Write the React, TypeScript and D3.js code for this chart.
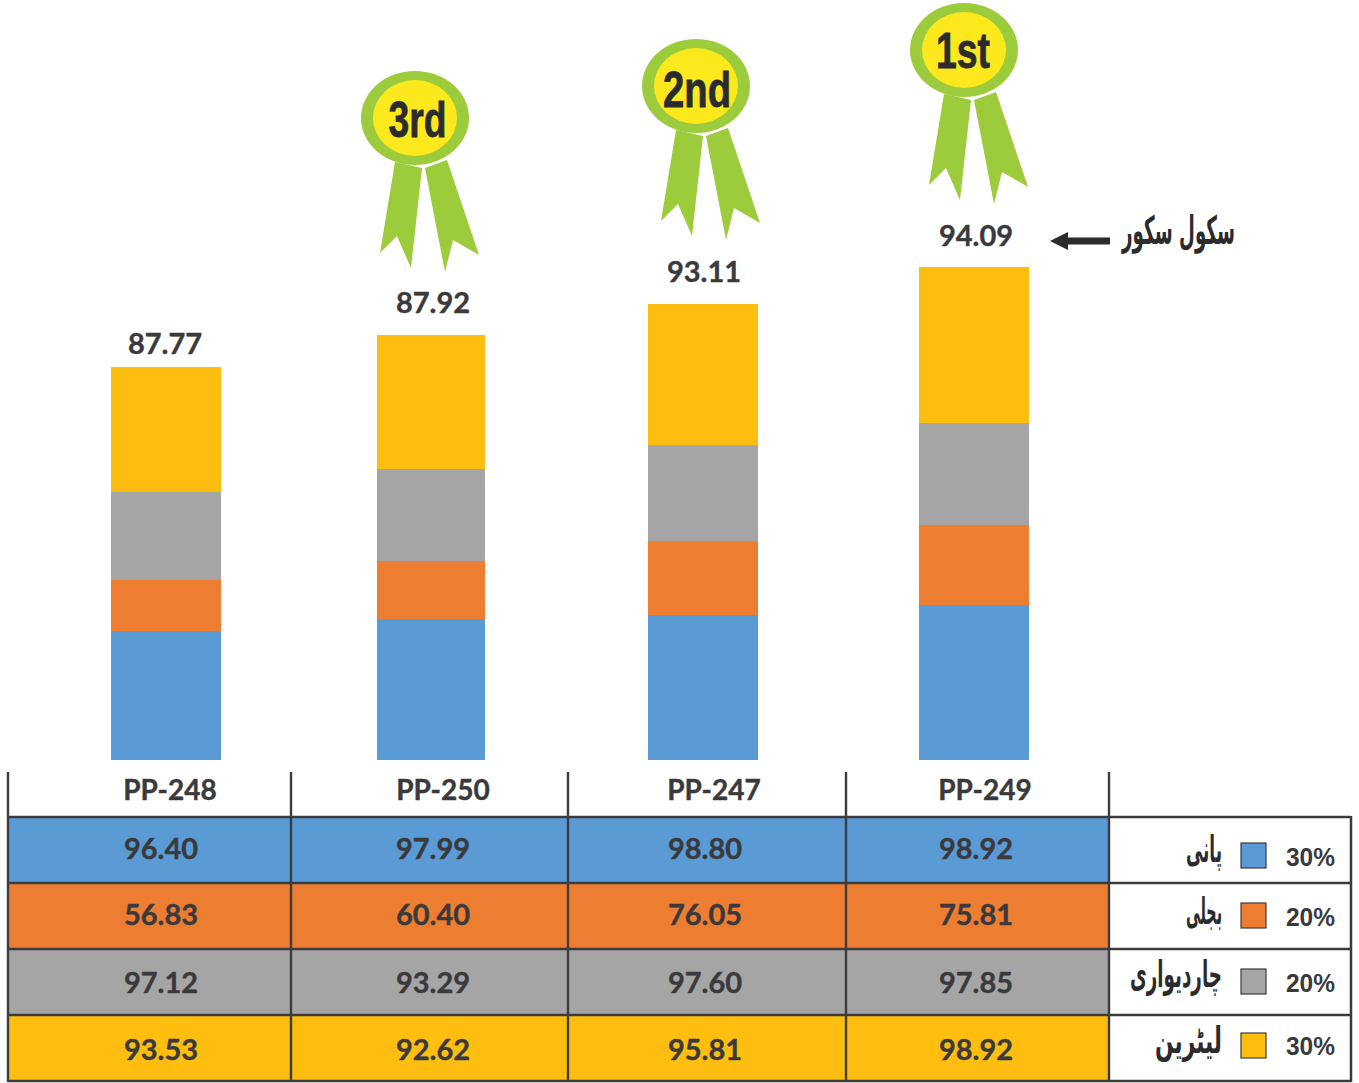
import React from "react";
import * as d3 from "d3";

// Data
const categories = ["PP-248", "PP-250", "PP-247", "PP-249"];
const totals = ["87.77", "87.92", "93.11", "94.09"];
const ranks = ["", "3rd", "2nd", "1st"];
const waterScores = ["96.40", "97.99", "98.80", "98.92"];
const powerScores = ["56.83", "60.40", "76.05", "75.81"];
const wallScores = ["97.12", "93.29", "97.60", "97.85"];
const toiletScores = ["93.53", "92.62", "95.81", "98.92"];
const legendNames = ["پانی", "بجلی", "چاردیواری", "لیٹرین"];
const legendWeights = ["30%", "20%", "20%", "30%"];
const scoreLabel = "سکول سکور";

// Segment heights as drawn in the picture (the printed bars are not on one true scale)
const waterDrawn = [24.62, 26.91, 27.67, 29.58];
const powerDrawn = [9.73, 11.07, 14.12, 15.27];
const wallDrawn = [16.79, 17.56, 18.32, 19.47];
const toiletDrawn = [23.85, 25.57, 26.91, 29.77];

const seriesKeys = ["water", "power", "wall", "toilet"];
const colors = ["#5b9bd5", "#ed7d31", "#a5a5a6", "#fdbe10"];
const ink = "#3a3a3d";
const line = "#3c3c3e";
const numFont = "Lato, 'Open Sans', sans-serif";
const narrowFont = "'Liberation Sans', Arial, sans-serif";
const urduFont = "'DejaVu Sans', sans-serif";

const y = d3.scaleLinear().domain([0, 100]).range([760, 236]);
const barX = d3.scaleOrdinal<string, number>().domain(categories).range([166, 431, 703, 974]);
const barW = d3.scaleOrdinal<string, number>().domain(categories).range([110, 108, 110, 110]);
const totalX = d3.scaleOrdinal<string, number>().domain(categories).range([165, 433, 704, 976]);
const totalY = d3.scaleOrdinal<string, number>().domain(categories).range([354, 313, 282, 246]);
const cellX = d3.scaleOrdinal<string, number>().domain(categories).range([161, 433, 705, 976]);
const headX = d3.scaleOrdinal<string, number>().domain(categories).range([170, 443, 714, 985]);
const rosetteX = d3.scaleOrdinal<string, number>().domain(categories).range([0, 415, 696, 964]);
const rosetteY = d3.scaleOrdinal<string, number>().domain(categories).range([0, 118, 86, 50]);
const rankW = d3.scaleOrdinal<string, number>().domain(categories).range([0, 58, 68, 54]);
const rankDx = d3.scaleOrdinal<string, number>().domain(categories).range([0, 2.5, 1, -1]);
const rankDy = d3.scaleOrdinal<string, number>().domain(categories).range([0, 19, 21, 18]);

const stackRows = categories.map((c, i) => ({
  c,
  water: waterDrawn[i],
  power: powerDrawn[i],
  wall: wallDrawn[i],
  toilet: toiletDrawn[i],
}));
const stacked = d3.stack<any>().keys(seriesKeys)(stackRows);

const tableRows = [waterScores, powerScores, wallScores, toiletScores];
const colEdges = [8, 291, 568, 846, 1109];
const rowEdges = [817, 883, 949, 1015, 1081];
const rightEdge = 1351;
const valueBase = [859, 925, 993, 1060];
const swatchTop = [843, 903, 969, 1033];
const weightBase = [866, 926, 992, 1055];
const urduBase = [862, 924, 987, 1053];
const urduWidth = [36, 36, 92, 67];

const ribbonLeft = d3.line()([[-20, 44], [7, 50], [-4, 150], [-18, 118], [-35, 135]]) + "Z";
const ribbonRight = d3.line()([[10, 50], [32, 42], [64, 137], [38, 122], [30, 154]]) + "Z";

export default function App() {
  return (
    <svg
      width={1359}
      height={1083}
      viewBox="0 0 1359 1083"
      style={{ position: "absolute", left: 0, top: 0, display: "block", background: "#fff" }}
    >
      {stacked.map((s, si) =>
        s.map((d: any, i: number) => {
          const c = categories[i];
          return (
            <rect
              key={`${si}-${i}`}
              x={barX(c) - barW(c) / 2}
              y={y(d[1])}
              width={barW(c)}
              height={y(d[0]) - y(d[1])}
              fill={colors[si]}
            />
          );
        })
      )}

      {categories.map((c, i) => (
        <text
          key={c}
          x={totalX(c)}
          y={totalY(c)}
          textAnchor="middle"
          fontFamily={numFont}
          fontWeight={700}
          fontSize={29}
          stroke={ink}
          strokeWidth={0.4}
          fill={ink}
        >
          {totals[i]}
        </text>
      ))}

      {categories.map((c, i) =>
        ranks[i] ? (
          <g key={c} transform={`translate(${rosetteX(c)},${rosetteY(c)})`}>
            <path d={ribbonLeft} fill="#9ccb3b" />
            <path d={ribbonRight} fill="#9ccb3b" />
            <ellipse rx={54} ry={47} fill="#9ccb3b" />
            <ellipse rx={42} ry={38} fill="#fbe91e" />
            <text
              x={rankDx(c)}
              y={rankDy(c)}
              textAnchor="middle"
              fontFamily={narrowFont}
              fontWeight={700}
              fontSize={50}
              textLength={rankW(c)}
              lengthAdjust="spacingAndGlyphs"
              stroke="#2b2b2d"
              strokeWidth={0.8}
              fill="#2b2b2d"
            >
              {ranks[i]}
            </text>
          </g>
        ) : null
      )}

      <path d="M1050,241 L1068,232 L1068,237.5 L1110,237.5 L1110,244.5 L1068,244.5 L1068,250 Z" fill="#2b2b2d" />
      <g transform="translate(1235,244) scale(1,1.4)">
        <text
          x={0}
          y={0}
          direction="rtl"
          textAnchor="start"
          fontFamily={urduFont}
          fontWeight={700}
          fontSize={28}
          textLength={113}
          lengthAdjust="spacingAndGlyphs"
          fill="#2b2b2d"
        >
          {scoreLabel}
        </text>
      </g>

      {tableRows.map((row, r) => (
        <rect
          key={r}
          x={colEdges[0]}
          y={rowEdges[r]}
          width={colEdges[4] - colEdges[0]}
          height={rowEdges[r + 1] - rowEdges[r]}
          fill={colors[r]}
        />
      ))}
      {rowEdges.map((ry) => (
        <line key={ry} x1={colEdges[0]} x2={rightEdge} y1={ry} y2={ry} stroke={line} strokeWidth={2.5} />
      ))}
      {colEdges.map((cx) => (
        <line key={cx} x1={cx} x2={cx} y1={772} y2={1082} stroke={line} strokeWidth={2.4} />
      ))}
      <line x1={rightEdge} x2={rightEdge} y1={816} y2={1082} stroke={line} strokeWidth={2.5} />

      {categories.map((c) => (
        <text
          key={c}
          x={headX(c)}
          y={800}
          textAnchor="middle"
          fontFamily={numFont}
          fontWeight={700}
          fontSize={28}
          stroke={ink}
          strokeWidth={0.4}
          fill={ink}
        >
          {c}
        </text>
      ))}
      {tableRows.map((row, r) =>
        row.map((v, i) => (
          <text
            key={`${r}-${i}`}
            x={cellX(categories[i])}
            y={valueBase[r]}
            textAnchor="middle"
            fontFamily={numFont}
            fontWeight={700}
            fontSize={29}
            stroke={ink}
            strokeWidth={0.4}
            fill={ink}
          >
            {v}
          </text>
        ))
      )}

      {legendNames.map((n, r) => (
        <g key={n}>
          <g transform={`translate(1222,${urduBase[r]}) scale(1,1.4)`}>
            <text
              x={0}
              y={0}
              direction="rtl"
              textAnchor="start"
              fontFamily={urduFont}
              fontWeight={700}
              fontSize={26}
              textLength={urduWidth[r]}
              lengthAdjust="spacingAndGlyphs"
              fill="#2b2b2d"
            >
              {n}
            </text>
          </g>
          <rect x={1241} y={swatchTop[r]} width={25} height={25} fill={colors[r]} stroke={line} strokeWidth={1.2} />
          <text
            x={1335}
            y={weightBase[r]}
            textAnchor="end"
            fontFamily={narrowFont}
            fontWeight={700}
            fontSize={26}
            textLength={49}
            lengthAdjust="spacingAndGlyphs"
            fill={ink}
          >
            {legendWeights[r]}
          </text>
        </g>
      ))}
    </svg>
  );
}
